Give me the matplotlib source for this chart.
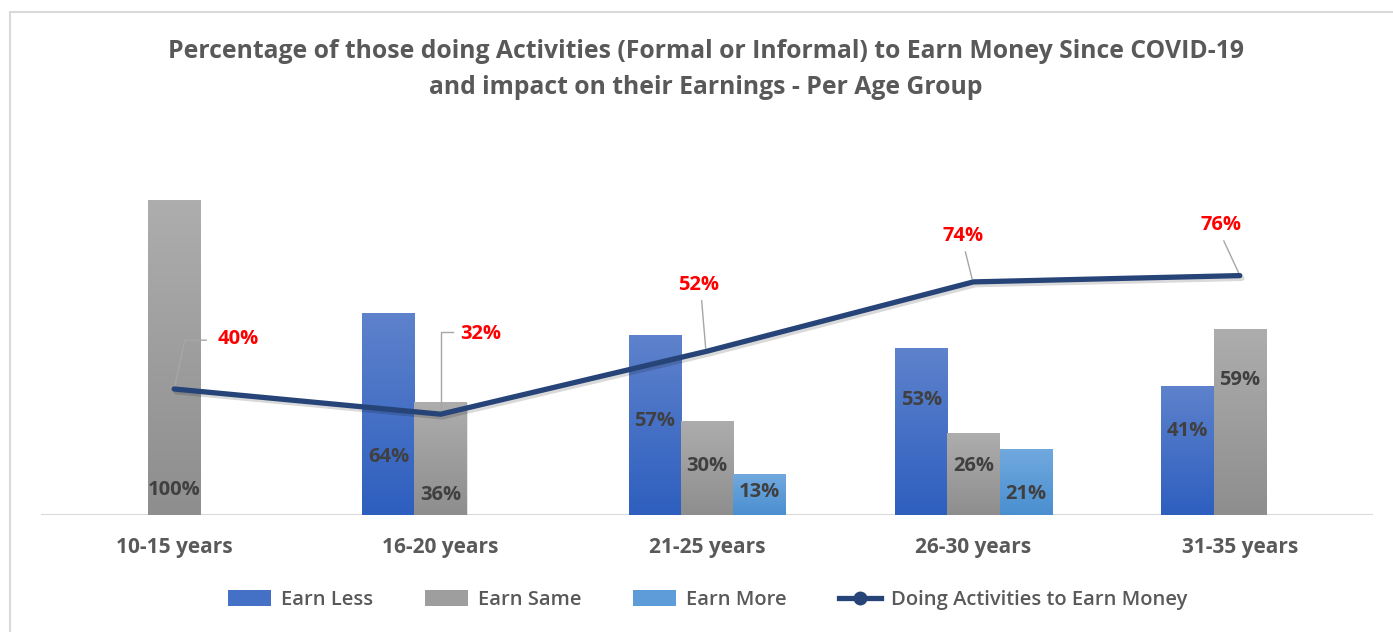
import numpy as np
import matplotlib
matplotlib.use('Agg')
import matplotlib.pyplot as plt
from matplotlib.patches import Rectangle, Patch
from matplotlib.lines import Line2D
import matplotlib.patheffects as pe

plt.rcParams['font.family'] = ['Open Sans', 'DejaVu Sans']

ages = ['10-15 years', '16-20 years', '21-25 years', '26-30 years', '31-35 years']
earn_less = [None, 64, 57, 53, 41]
earn_same = [100, 36, 30, 26, 59]
earn_more = [None, None, 13, 21, None]
doing = [40, 32, 52, 74, 76]

# label heights (axis units) to mimic the hand-placed labels
less_lab_y = [None, 0.184, 0.298, 0.365, 0.267]
same_lab_y = [0.079, 0.063, 0.156, 0.156, 0.429]
more_lab_y = [None, None, 0.073, 0.067, None]

W, H = 1393, 632
fig = plt.figure(figsize=(W / 100, H / 100), dpi=100)
fig.patches.append(Rectangle((10 / W, -0.1), 1.2, 1.1 - 12 / H, transform=fig.transFigure,
                             fill=False, edgecolor='#D9D9D9', linewidth=1.5))

ax = fig.add_axes([41 / W, (H - 515) / H, (1373 - 41) / W, 378 / H])
for s in ax.spines.values():
    s.set_visible(False)
ax.axhline(0, color='#D9D9D9', lw=1.5, zorder=1)
ax.set_yticks([])
ax.set_xticks(range(len(ages)))
ax.set_xticklabels(ages, fontsize=15, fontweight='bold', color='#595959')
ax.tick_params(axis='x', length=0, pad=16)

bw = 0.196
x = np.arange(len(ages))
series = [
    (earn_less, -1, ('#5E82CC', '#2E5FBF'), less_lab_y),
    (earn_same, 0, ('#ADADAD', '#8E8E8E'), same_lab_y),
    (earn_more, 1, ('#71A9DE', '#4A8FD0'), more_lab_y),
]


def vgrad(c_top, c_bot):
    a = np.array(matplotlib.colors.to_rgb(c_top))
    b = np.array(matplotlib.colors.to_rgb(c_bot))
    t = np.linspace(0, 1, 64)[:, None]
    return (a * (1 - t) + b * t)[:, None, :]


for vals, off, (ctop, cbot), laby in series:
    for i, v in enumerate(vals):
        if v is None:
            continue
        h = v / 100
        x0 = x[i] + off * bw - bw / 2
        ax.add_patch(Rectangle((x0 + 0.003, -0.004), bw, h, facecolor='black', alpha=0.10,
                               edgecolor='none', zorder=1.5))
        r = Rectangle((x0, 0), bw, h, facecolor='none', edgecolor='none', zorder=2)
        ax.add_patch(r)
        im = ax.imshow(vgrad(ctop, cbot), extent=(x0, x0 + bw, 0, h), aspect='auto',
                       origin='upper', zorder=2)
        im.set_clip_path(r)
        ax.text(x[i] + off * bw, laby[i], f'{v}%', ha='center', va='center',
                fontsize=14.5, fontweight='bold', color='#404040', zorder=4)

ax.set_xlim(-0.5, 4.5)
ax.set_ylim(0, 1.2)

line_y = [d / 100 for d in doing]
ax.plot(x, line_y, color='#264478', lw=3.8, solid_capstyle='round', solid_joinstyle='round',
        zorder=5, path_effects=[pe.SimpleLineShadow(offset=(1.5, -2), alpha=0.15), pe.Normal()])

# red labels with gray leader lines (offsets in axis units)
lab_off = [(0.24, 0.16), (0.15, 0.255), (-0.03, 0.21), (-0.04, 0.145), (-0.07, 0.16)]
for i, d in enumerate(doing):
    dx, dy = lab_off[i]
    lx, ly = x[i] + dx, line_y[i] + dy
    ax.text(lx, ly, f'{d}%', ha='center', va='center', fontsize=14.5, fontweight='bold',
            color='#FF0000', zorder=6)
    if i == 0:
        ax.plot([x[i], x[i] + 0.04, x[i] + 0.12], [line_y[i], ly - 0.005, ly - 0.005],
                color='#A6A6A6', lw=1, zorder=4)
    elif i == 1:
        ax.plot([x[i], x[i], x[i] + 0.045], [line_y[i], ly + 0.005, ly + 0.005],
                color='#A6A6A6', lw=1, zorder=4)
    else:
        ax.plot([lx + 0.01, x[i] - 0.005], [ly - 0.05, line_y[i] + 0.01],
                color='#A6A6A6', lw=1, zorder=4)

fig.text(706 / W, 1 - 52 / H, 'Percentage of those doing Activities (Formal or Informal) to Earn Money Since COVID-19',
         ha='center', va='center', fontsize=17.8, fontweight='bold', color='#595959')
fig.text(706 / W, 1 - 88 / H, 'and impact on their Earnings - Per Age Group',
         ha='center', va='center', fontsize=17.8, fontweight='bold', color='#595959')

handles = [
    Patch(facecolor='#4470C6', label='Earn Less'),
    Patch(facecolor='#9E9E9E', label='Earn Same'),
    Patch(facecolor='#5D9CD8', label='Earn More'),
    Line2D([0], [0], color='#264478', lw=3.8, marker='o', markersize=9, label='Doing Activities to Earn Money'),
]
leg = fig.legend(handles=handles, loc='center', bbox_to_anchor=(708 / W, 1 - 600 / H), ncol=4,
                 frameon=False, fontsize=14.5, handlelength=2.1, handleheight=0.8,
                 columnspacing=2.6, handletextpad=0.5)
for t in leg.get_texts():
    t.set_color('#595959')
    t.set_fontweight('semibold')

fig.savefig('out.png', dpi=100)
